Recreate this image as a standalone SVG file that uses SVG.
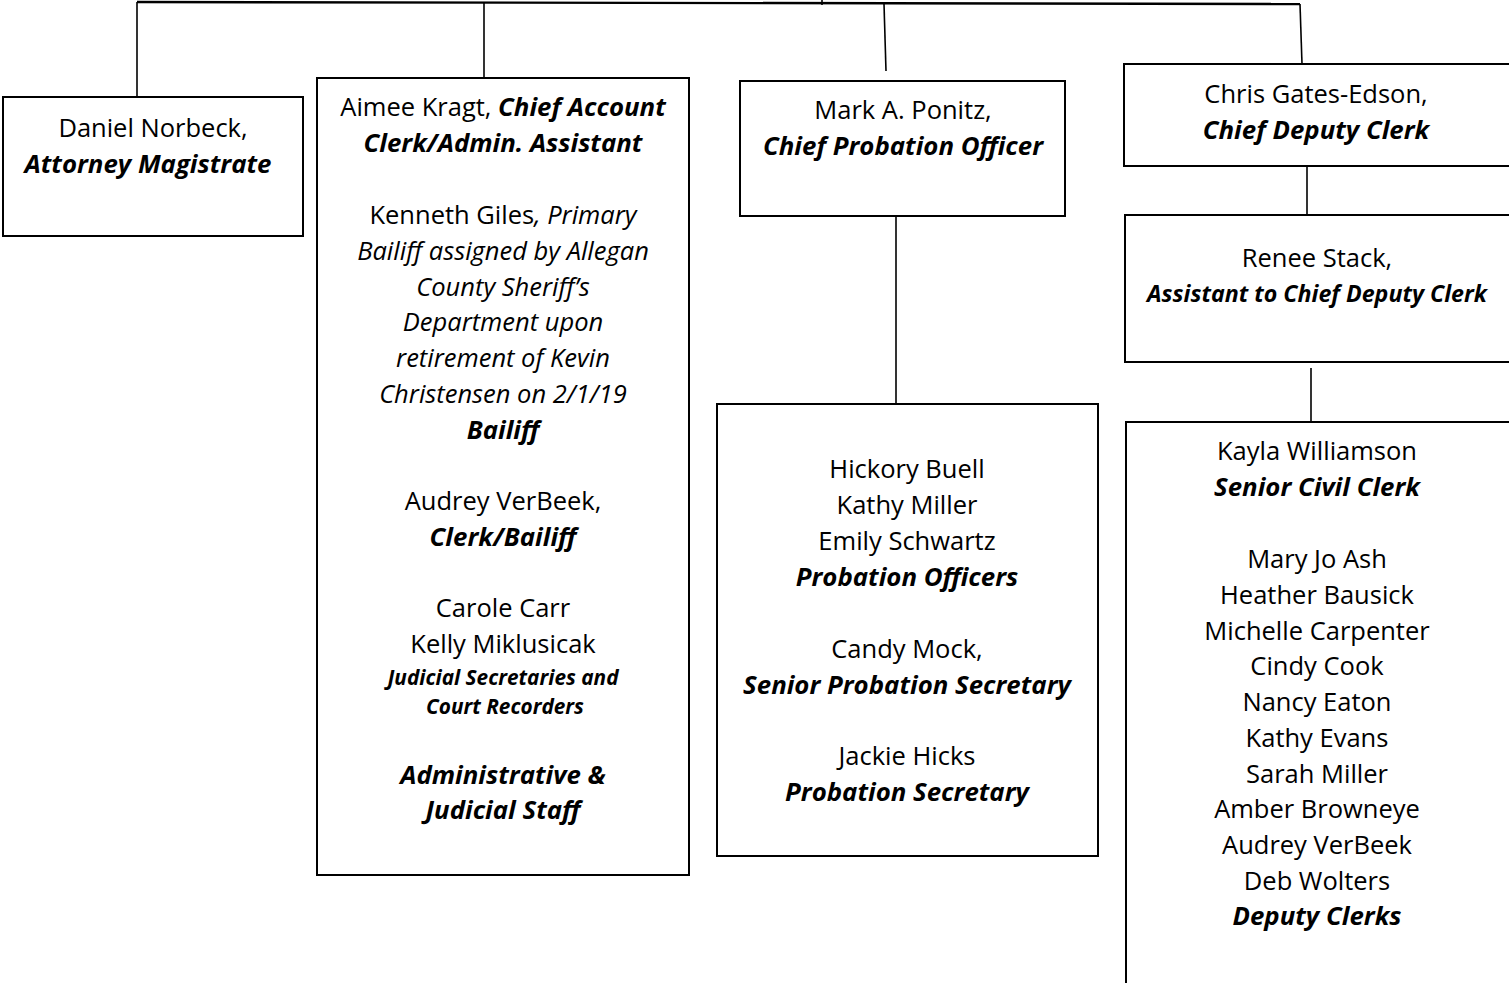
<svg xmlns="http://www.w3.org/2000/svg" width="1509" height="983" viewBox="0 0 1509 983">
<style>
.box{fill:#fff;stroke:#000;stroke-width:2}
.ln{stroke:#000;stroke-width:1.6;fill:none}
text{font-family:"Open Sans","Noto Sans","Liberation Sans",sans-serif;font-size:25.5px;fill:#000;text-anchor:middle}
.bi{font-weight:bold;font-style:italic;font-size:25.8px}
.it{font-style:italic}
.sm{font-weight:bold;font-style:italic;font-size:20.8px}
</style>
<rect width="1509" height="983" fill="#fff"/>
<g id="connectors">
<path class="ln" d="M137,2 L1300,4" style="stroke-width:2.4"/>
<path class="ln" d="M822,0 L822,5"/>
<path class="ln" d="M137,2 L137,97"/>
<path class="ln" d="M484,2 L484,78"/>
<path class="ln" d="M884,4 L886,71"/>
<path class="ln" d="M1300,4 L1302,64"/>
<path class="ln" d="M896,216 L896,404"/>
<path class="ln" d="M1307,166 L1307,214"/>
<path class="ln" d="M1311,368 L1311,422"/>
</g>
<g id="daniel">
<rect class="box" x="3" y="97" width="300" height="139"/>
<text x="153" y="137">Daniel Norbeck,</text>
<text x="148" y="173" class="bi">Attorney Magistrate</text>
</g>
<g id="aimee">
<rect class="box" x="317" y="78" width="372" height="797"/>
<text x="503" y="116">Aimee Kragt, <tspan class="bi">Chief Account</tspan></text>
<text x="503" y="152" class="bi">Clerk/Admin. Assistant</text>
<text x="503" y="224">Kenneth Giles<tspan class="it">, Primary</tspan></text>
<text x="503" y="260" class="it">Bailiff assigned by Allegan</text>
<text x="503" y="296" class="it">County Sheriff’s</text>
<text x="503" y="331" class="it">Department upon</text>
<text x="503" y="367" class="it">retirement of Kevin</text>
<text x="503" y="403" class="it">Christensen on 2/1/19</text>
<text x="503" y="439" class="bi">Bailiff</text>
<text x="503" y="510">Audrey VerBeek,</text>
<text x="503" y="546" class="bi">Clerk/Bailiff</text>
<text x="503" y="617">Carole Carr</text>
<text x="503" y="653">Kelly Miklusicak</text>
<text x="503" y="685" class="sm">Judicial Secretaries and</text>
<text x="505" y="714" class="sm">Court Recorders</text>
<text x="503" y="784" class="bi">Administrative &amp;</text>
<text x="503" y="819" class="bi">Judicial Staff</text>
</g>
<g id="mark">
<rect class="box" x="740" y="81" width="325" height="135"/>
<text x="903" y="119">Mark A. Ponitz,</text>
<text x="903" y="155" class="bi">Chief Probation Officer</text>
</g>
<g id="chris">
<rect class="box" x="1124" y="64" width="390" height="102"/>
<text x="1316" y="103">Chris Gates-Edson,</text>
<text x="1316" y="139" class="bi">Chief Deputy Clerk</text>
</g>
<g id="renee">
<rect class="box" x="1125" y="215" width="389" height="147"/>
<text x="1317" y="267">Renee Stack,</text>
<text x="1317" y="302" class="bi" style="font-size:23.2px">Assistant to Chief Deputy Clerk</text>
</g>
<g id="probation">
<rect class="box" x="717" y="404" width="381" height="452"/>
<text x="907" y="478">Hickory Buell</text>
<text x="907" y="514">Kathy Miller</text>
<text x="907" y="550">Emily Schwartz</text>
<text x="907" y="586" class="bi">Probation Officers</text>
<text x="907" y="658">Candy Mock,</text>
<text x="907" y="694" class="bi">Senior Probation Secretary</text>
<text x="907" y="765">Jackie Hicks</text>
<text x="907" y="801" class="bi">Probation Secretary</text>
</g>
<g id="kayla">
<rect class="box" x="1126" y="422" width="390" height="570"/>
<text x="1317" y="460">Kayla Williamson</text>
<text x="1317" y="496" class="bi">Senior Civil Clerk</text>
<text x="1317" y="568">Mary Jo Ash</text>
<text x="1317" y="604">Heather Bausick</text>
<text x="1317" y="640">Michelle Carpenter</text>
<text x="1317" y="675">Cindy Cook</text>
<text x="1317" y="711">Nancy Eaton</text>
<text x="1317" y="747">Kathy Evans</text>
<text x="1317" y="783">Sarah Miller</text>
<text x="1317" y="818">Amber Browneye</text>
<text x="1317" y="854">Audrey VerBeek</text>
<text x="1317" y="890">Deb Wolters</text>
<text x="1317" y="925" class="bi">Deputy Clerks</text>
</g>
</svg>
